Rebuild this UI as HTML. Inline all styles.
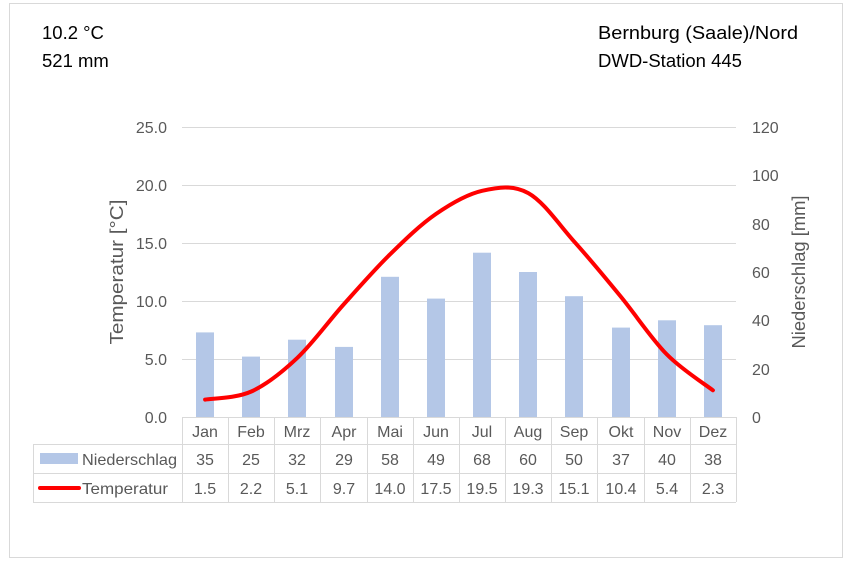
<!DOCTYPE html>
<html><head><meta charset="utf-8"><style>
body{margin:0;background:#fff}
svg text{font-family:"Liberation Sans",sans-serif}
</style></head><body>
<svg width="846" height="567" viewBox="0 0 846 567" xmlns="http://www.w3.org/2000/svg">
<rect x="9.5" y="3.5" width="833" height="554" fill="#fff" stroke="#d9d9d9"/>
<g font-size="18.5" fill="#000">
<text x="42" y="39">10.2 °C</text>
<text x="42" y="67">521 mm</text>
<text x="598" y="39" textLength="200" lengthAdjust="spacingAndGlyphs">Bernburg (Saale)/Nord</text>
<text x="598" y="67">DWD-Station 445</text>
</g>
<g stroke="#d9d9d9" stroke-width="1">
<line x1="182" y1="127.5" x2="736" y2="127.5"/>
<line x1="182" y1="185.5" x2="736" y2="185.5"/>
<line x1="182" y1="243.5" x2="736" y2="243.5"/>
<line x1="182" y1="301.5" x2="736" y2="301.5"/>
<line x1="182" y1="359.5" x2="736" y2="359.5"/>
</g>
<g font-size="16" fill="#595959" text-anchor="end">
<text x="167" y="133">25.0</text><text x="167" y="191">20.0</text><text x="167" y="249">15.0</text>
<text x="167" y="307">10.0</text><text x="167" y="365">5.0</text><text x="167" y="423">0.0</text>
</g>
<g font-size="16" fill="#595959" text-anchor="start">
<text x="752" y="133">120</text><text x="752" y="181">100</text><text x="752" y="230">80</text>
<text x="752" y="278">60</text><text x="752" y="326">40</text><text x="752" y="375">20</text><text x="752" y="423">0</text>
</g>
<text font-size="18" fill="#595959" text-anchor="middle" transform="translate(123,272) rotate(-90)" textLength="145" lengthAdjust="spacingAndGlyphs">Temperatur [°C]</text>
<text font-size="18" fill="#595959" text-anchor="middle" transform="translate(805,272) rotate(-90)" textLength="153" lengthAdjust="spacingAndGlyphs">Niederschlag [mm]</text>
<g fill="#b4c7e7">
<rect x="196" y="332.4" width="18" height="84.6"/>
<rect x="242" y="356.6" width="18" height="60.4"/>
<rect x="288" y="339.7" width="18" height="77.3"/>
<rect x="335" y="346.9" width="18" height="70.1"/>
<rect x="381" y="276.8" width="18" height="140.2"/>
<rect x="427" y="298.6" width="18" height="118.4"/>
<rect x="473" y="252.7" width="18" height="164.3"/>
<rect x="519" y="272" width="18" height="145"/>
<rect x="565" y="296.2" width="18" height="120.8"/>
<rect x="612" y="327.6" width="18" height="89.4"/>
<rect x="658" y="320.3" width="18" height="96.7"/>
<rect x="704" y="325.2" width="18" height="91.8"/>
</g>
<path d="M205.1,399.6 C212.8,398.3 235.9,398.5 251.3,391.5 C266.7,384.5 282,372.3 297.4,357.8 C312.8,343.3 328.2,321.7 343.6,304.5 C359,287.3 374.4,269.7 389.8,254.6 C405.2,239.5 420.5,224.6 435.9,214 C451.3,203.4 466.7,194.3 482.1,190.8 C497.5,187.3 512.9,184.6 528.3,193.1 C543.7,201.6 559,224.6 574.4,241.8 C589.8,259 605.2,277.6 620.6,296.4 C636,315.2 651.4,338.8 666.8,354.4 C682.2,370 705.2,384.3 712.9,390.3" fill="none" stroke="#ff0000" stroke-width="4" stroke-linecap="round"/>
<g stroke="#d9d9d9" stroke-width="1" fill="none">
<line x1="182" y1="417.5" x2="736" y2="417.5"/>
<line x1="33" y1="444.5" x2="736" y2="444.5"/>
<line x1="33" y1="473.5" x2="736" y2="473.5"/>
<line x1="33" y1="502.5" x2="736" y2="502.5"/>
<line x1="33.5" y1="444" x2="33.5" y2="502"/>
<line x1="182.5" y1="417" x2="182.5" y2="502"/>
<line x1="228.5" y1="417" x2="228.5" y2="502"/>
<line x1="274.5" y1="417" x2="274.5" y2="502"/>
<line x1="320.5" y1="417" x2="320.5" y2="502"/>
<line x1="367.5" y1="417" x2="367.5" y2="502"/>
<line x1="413.5" y1="417" x2="413.5" y2="502"/>
<line x1="459.5" y1="417" x2="459.5" y2="502"/>
<line x1="505.5" y1="417" x2="505.5" y2="502"/>
<line x1="551.5" y1="417" x2="551.5" y2="502"/>
<line x1="597.5" y1="417" x2="597.5" y2="502"/>
<line x1="644.5" y1="417" x2="644.5" y2="502"/>
<line x1="690.5" y1="417" x2="690.5" y2="502"/>
<line x1="736.5" y1="417" x2="736.5" y2="502"/>
</g>
<rect x="40" y="453" width="38" height="11" fill="#b4c7e7"/>
<line x1="40" y1="488" x2="79" y2="488" stroke="#ff0000" stroke-width="4" stroke-linecap="round"/>
<g font-size="16" fill="#595959">
<text x="82" y="465" textLength="95" lengthAdjust="spacingAndGlyphs">Niederschlag</text>
<text x="82" y="494" textLength="86" lengthAdjust="spacingAndGlyphs">Temperatur</text>
</g>
<g font-size="16" fill="#595959" text-anchor="middle">
<text x="205" y="437">Jan</text><text x="251" y="437">Feb</text><text x="297" y="437">Mrz</text><text x="344" y="437">Apr</text><text x="390" y="437">Mai</text><text x="436" y="437">Jun</text><text x="482" y="437">Jul</text><text x="528" y="437">Aug</text><text x="574" y="437">Sep</text><text x="621" y="437">Okt</text><text x="667" y="437">Nov</text><text x="713" y="437">Dez</text>
<text x="205" y="465">35</text><text x="251" y="465">25</text><text x="297" y="465">32</text><text x="344" y="465">29</text><text x="390" y="465">58</text><text x="436" y="465">49</text><text x="482" y="465">68</text><text x="528" y="465">60</text><text x="574" y="465">50</text><text x="621" y="465">37</text><text x="667" y="465">40</text><text x="713" y="465">38</text>
<text x="205" y="494">1.5</text><text x="251" y="494">2.2</text><text x="297" y="494">5.1</text><text x="344" y="494">9.7</text><text x="390" y="494">14.0</text><text x="436" y="494">17.5</text><text x="482" y="494">19.5</text><text x="528" y="494">19.3</text><text x="574" y="494">15.1</text><text x="621" y="494">10.4</text><text x="667" y="494">5.4</text><text x="713" y="494">2.3</text>
</g>
</svg>
</body></html>
